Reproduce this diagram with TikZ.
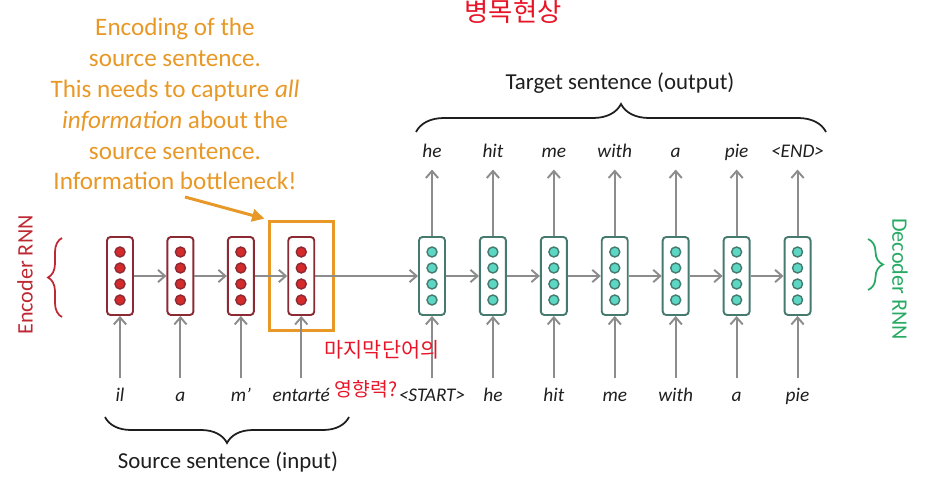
\documentclass[tikz,border=0pt]{standalone}
\usepackage{fontspec}
\setmainfont{Carlito}
\newfontfamily\korfont{Noto Sans CJK KR}
\usetikzlibrary{arrows.meta,positioning,calc,fit,decorations.pathreplacing}

\definecolor{noteorange}{RGB}{232,152,38}
\definecolor{encline}{RGB}{140,42,52}
\definecolor{encdot}{RGB}{212,42,42}
\definecolor{enctext}{RGB}{190,40,50}
\definecolor{decline}{RGB}{70,122,110}
\definecolor{decdot}{RGB}{92,215,195}
\definecolor{dectext}{RGB}{40,170,100}
\definecolor{flowgray}{RGB}{140,140,140}
\definecolor{inkred}{RGB}{232,20,40}
\definecolor{darktext}{RGB}{30,30,30}

\begin{document}
\begin{tikzpicture}[x=0.02cm, y=-0.02cm, node distance=0.66cm,
        enccell/.style={rectangle, draw=encline, line width=1.1pt, fill=white, rounded corners=2pt,
            minimum width=0.52cm, minimum height=1.56cm, inner sep=0pt,
            path picture={\foreach \dy in {-0.48,-0.16,0.16,0.48}
                \filldraw[draw=encline, fill=encdot, line width=0.8pt] ([yshift=\dy cm]path picture bounding box.center) circle (0.1cm);}},
        deccell/.style={rectangle, draw=decline, line width=1.1pt, fill=white, rounded corners=2pt,
            minimum width=0.52cm, minimum height=1.56cm, inner sep=0pt,
            path picture={\foreach \dy in {-0.48,-0.16,0.16,0.48}
                \filldraw[draw=decline, fill=decdot, line width=0.8pt] ([yshift=\dy cm]path picture bounding box.center) circle (0.1cm);}},
        word/.style={font=\itshape\fontsize{11}{13}\selectfont, text=darktext, text height=1.6ex, text depth=0.4ex, inner sep=5pt},
        caption/.style={font=\fontsize{13}{15}\selectfont, text=darktext},
        flow/.style={draw=flowgray, line width=1.1pt, -{Straight Barb[length=4pt, width=7pt]}},
        brace/.style={draw=darktext, line width=1pt, decorate},
        hlbox/.style={draw=noteorange, line width=1.7pt, inner xsep=0.36cm, inner ysep=0.3cm},
        kor/.style={font=\korfont, text=inkred, inner sep=0pt}]

    \useasboundingbox (0,0) rectangle (925,493);

    % encoder and decoder cells
    \node[enccell] (e1) at (120,276) {};
    \node[enccell, right=0.65cm of e1] (e2) {};
    \node[enccell, right=0.65cm of e2] (e3) {};
    \node[enccell, right=0.65cm of e3] (e4) {};
    \node[deccell] (d1) at (432,276) {};
    \node[deccell, right=of d1] (d2) {};
    \node[deccell, right=of d2] (d3) {};
    \node[deccell, right=of d3] (d4) {};
    \node[deccell, right=of d4] (d5) {};
    \node[deccell, right=of d5] (d6) {};
    \node[deccell, right=of d6] (d7) {};
    \node[hlbox, fit=(e4)] (hl) {};

    % words
    \coordinate (inrow) at (0,396);
    \coordinate (outrow) at (0,152);
    \node[word] (w1) at (e1 |- inrow) {il};
    \node[word] (w2) at (e2 |- inrow) {a};
    \node[word] (w3) at (e3 |- inrow) {m’};
    \node[word] (w4) at (e4 |- inrow) {entarté};
    \node[word] (x1) at (d1 |- inrow) {<START>};
    \node[word] (x2) at (d2 |- inrow) {he};
    \node[word] (x3) at (d3 |- inrow) {hit};
    \node[word] (x4) at (d4 |- inrow) {me};
    \node[word] (x5) at (d5 |- inrow) {with};
    \node[word] (x6) at (d6 |- inrow) {a};
    \node[word] (x7) at (d7 |- inrow) {pie};
    \node[word] (y1) at (d1 |- outrow) {he};
    \node[word] (y2) at (d2 |- outrow) {hit};
    \node[word] (y3) at (d3 |- outrow) {me};
    \node[word] (y4) at (d4 |- outrow) {with};
    \node[word] (y5) at (d5 |- outrow) {a};
    \node[word] (y6) at (d6 |- outrow) {pie};
    \node[word] (y7) at (d7 |- outrow) {<END>};

    % arrows
    \foreach \i/\j in {1/2,2/3,3/4} \draw[flow] (e\i) -- (e\j);
    \draw[flow] (e4) -- (d1);
    \foreach \i/\j in {1/2,2/3,3/4,4/5,5/6,6/7} \draw[flow] (d\i) -- (d\j);
    \foreach \i in {1,...,4} \draw[flow] (w\i) -- (e\i);
    \foreach \i in {1,...,7} {
        \draw[flow] (x\i) -- (d\i);
        \draw[flow] (d\i) -- (y\i);
    }

    % braces and labels
    \draw[brace, decoration={brace, mirror, amplitude=0.52cm}] (105,417) -- (349,417);
    \node[caption] (src) at (228,462) {Source sentence (input)};
    \draw[brace, decoration={brace, amplitude=0.56cm}] (416,132) -- (826,132);
    \node[caption] (tgt) at (620,83) {Target sentence (output)};
    \draw[brace, draw=enctext, decoration={brace, amplitude=0.28cm}] (62,317) -- (62,238);
    \node[rotate=90, text=enctext, font=\fontsize{12.6}{15}\selectfont] (enclab) at (25,275) {Encoder RNN};
    \draw[brace, draw=dectext, decoration={brace, amplitude=0.3cm}] (868,239) -- (868,290);
    \node[rotate=-90, text=dectext, font=\fontsize{12.6}{15}\selectfont] (declab) at (900,279) {Decoder RNN};

    % bottleneck note
    \node[text=noteorange, align=center, font=\fontsize{14.3}{17.6}\selectfont] (note) at (175,104)
        {Encoding of the\\source sentence.\\This needs to capture \textit{all}\\\textit{information} about the\\source sentence.\\Information bottleneck!};
    \coordinate (tail) at (185,197);
    \draw[draw=noteorange, line width=1.7pt, -{Triangle[length=7pt, width=7pt]}, shorten >=2pt] (tail) -- (hl.north west);

    % handwritten remarks
    \node[kor, font=\korfont\fontsize{15}{17}\selectfont] (k1) at (513,12) {병목현상};
    \node[kor, font=\korfont\fontsize{11.8}{14}\selectfont] (k2) at (382,350) {마지막단어의};
    \node[kor, font=\korfont\fontsize{11}{13}\selectfont] (k3) at (366,389) {영향력?};
\end{tikzpicture}
\end{document}
